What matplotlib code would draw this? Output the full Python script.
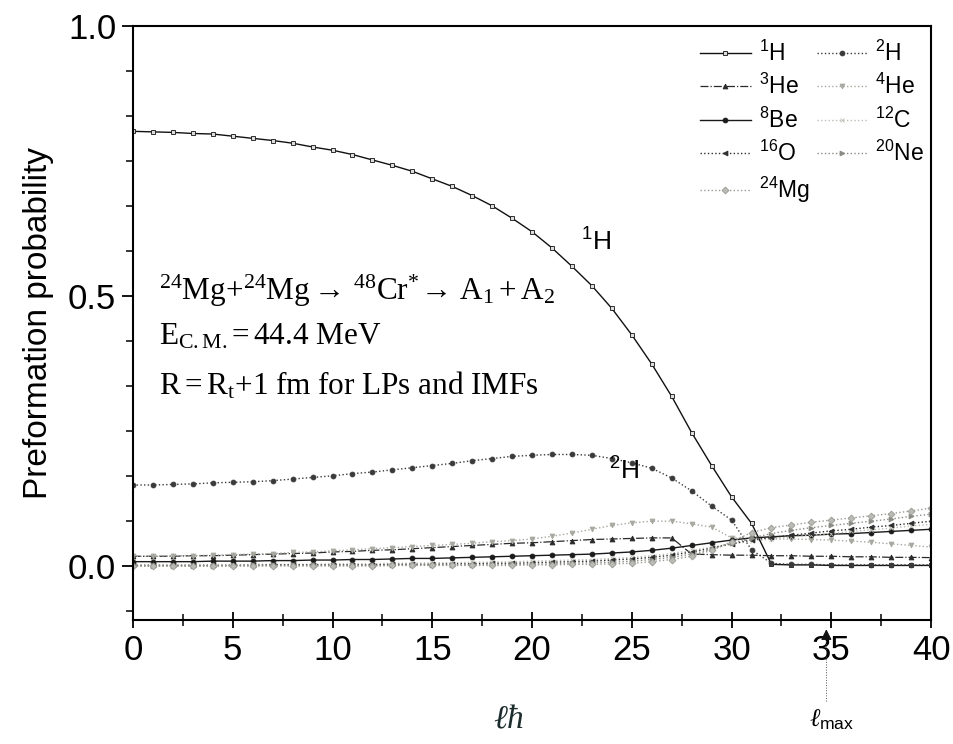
import matplotlib
matplotlib.use("Agg")
import matplotlib.pyplot as plt
from matplotlib.ticker import MultipleLocator

plt.rcParams['font.family'] = ['Liberation Sans', 'DejaVu Sans']
plt.rcParams['mathtext.fontset'] = 'custom'
plt.rcParams['mathtext.rm'] = 'Liberation Serif'
plt.rcParams['mathtext.it'] = 'Liberation Serif:italic'
plt.rcParams['mathtext.sf'] = 'Liberation Sans'

# angular momentum l (units of hbar)
ell = list(range(0, 41))

p_1H = [0.805, 0.804, 0.803, 0.801, 0.800, 0.796, 0.792, 0.788, 0.783, 0.776, 0.770,
        0.762, 0.752, 0.742, 0.731, 0.717, 0.703, 0.686, 0.667, 0.644, 0.619,
        0.589, 0.555, 0.519, 0.477, 0.428, 0.374, 0.314, 0.247, 0.186, 0.128,
        0.079, 0.003, 0.002, 0.002, 0.001, 0.001, 0.001, 0.001, 0.001, 0.001]
p_2H = [0.150, 0.150, 0.151, 0.152, 0.154, 0.155, 0.156, 0.158, 0.161, 0.164, 0.167,
        0.171, 0.174, 0.178, 0.182, 0.186, 0.190, 0.195, 0.199, 0.203, 0.205,
        0.2065, 0.2065, 0.205, 0.199, 0.191, 0.181, 0.163, 0.139, 0.111, 0.085,
        0.030, 0.005, 0.003, 0.003, 0.002, 0.002, 0.002, 0.002, 0.002, 0.002]
p_3He = [0.018, 0.018, 0.018, 0.019, 0.019, 0.020, 0.021, 0.022, 0.023, 0.024, 0.026,
         0.027, 0.029, 0.030, 0.032, 0.034, 0.036, 0.038, 0.040, 0.042, 0.043,
         0.045, 0.047, 0.049, 0.050, 0.051, 0.052, 0.052, 0.022, 0.021, 0.020,
         0.020, 0.019, 0.019, 0.018, 0.018, 0.017, 0.017, 0.016, 0.016, 0.0155]
p_4He = [0.018, 0.018, 0.019, 0.019, 0.020, 0.021, 0.022, 0.023, 0.025, 0.026, 0.028,
         0.030, 0.032, 0.034, 0.036, 0.038, 0.040, 0.042, 0.045, 0.047, 0.050,
         0.055, 0.061, 0.068, 0.075, 0.080, 0.083, 0.083, 0.078, 0.072, 0.052,
         0.051, 0.050, 0.050, 0.049, 0.048, 0.046, 0.044, 0.041, 0.038, 0.035]
p_8Be = [0.008, 0.008, 0.008, 0.008, 0.009, 0.009, 0.009, 0.010, 0.010, 0.011, 0.011,
         0.012, 0.012, 0.013, 0.014, 0.014, 0.015, 0.016, 0.017, 0.018, 0.019,
         0.020, 0.021, 0.022, 0.024, 0.026, 0.029, 0.033, 0.038, 0.043, 0.048,
         0.052, 0.054, 0.056, 0.057, 0.059, 0.060, 0.062, 0.064, 0.066, 0.068]
p_12C = [0.002, 0.002, 0.002, 0.002, 0.002, 0.002, 0.003, 0.003, 0.003, 0.003, 0.004,
         0.004, 0.004, 0.005, 0.005, 0.006, 0.006, 0.007, 0.007, 0.008, 0.009,
         0.010, 0.011, 0.012, 0.014, 0.016, 0.019, 0.023, 0.029, 0.035, 0.041,
         0.046, 0.050, 0.054, 0.057, 0.060, 0.064, 0.067, 0.070, 0.074, 0.077]
p_16O = [0.001, 0.001, 0.001, 0.001, 0.001, 0.001, 0.001, 0.002, 0.002, 0.002, 0.002,
         0.002, 0.002, 0.003, 0.003, 0.003, 0.004, 0.004, 0.005, 0.005, 0.006,
         0.007, 0.008, 0.009, 0.011, 0.013, 0.016, 0.020, 0.026, 0.033, 0.041,
         0.048, 0.053, 0.057, 0.061, 0.065, 0.068, 0.072, 0.075, 0.079, 0.083]
p_20Ne = [0.000, 0.000, 0.000, 0.000, 0.000, 0.001, 0.001, 0.001, 0.001, 0.001, 0.001,
          0.001, 0.001, 0.001, 0.002, 0.002, 0.002, 0.002, 0.003, 0.003, 0.003,
          0.004, 0.005, 0.006, 0.007, 0.009, 0.012, 0.016, 0.022, 0.031, 0.042,
          0.052, 0.060, 0.066, 0.071, 0.075, 0.079, 0.083, 0.087, 0.092, 0.096]
p_24Mg = [0.000, 0.000, 0.000, 0.000, 0.000, 0.000, 0.000, 0.000, 0.000, 0.000, 0.000,
          0.000, 0.000, 0.001, 0.001, 0.001, 0.001, 0.001, 0.001, 0.001, 0.002,
          0.002, 0.003, 0.003, 0.004, 0.005, 0.008, 0.012, 0.018, 0.029, 0.045,
          0.062, 0.071, 0.076, 0.081, 0.085, 0.089, 0.093, 0.097, 0.102, 0.107]

labels = [r'$\mathsf{^{1}}$H', r'$\mathsf{^{2}}$H', r'$\mathsf{^{3}}$He', r'$\mathsf{^{4}}$He',
          r'$\mathsf{^{8}}$Be', r'$\mathsf{^{12}}$C', r'$\mathsf{^{16}}$O', r'$\mathsf{^{20}}$Ne',
          r'$\mathsf{^{24}}$Mg']
series = [p_1H, p_2H, p_3He, p_4He, p_8Be, p_12C, p_16O, p_20Ne, p_24Mg]
styles = [
    dict(color='#111111', ls='-', marker='s', mfc='#dddddd', lw=1.0),
    dict(color='#3a3a3a', ls=':', marker='o', mfc='#3a3a3a', lw=1.0),
    dict(color='#2a2a2a', ls='-.', marker='^', mfc='#2a2a2a', lw=0.9),
    dict(color='#a8a8a0', ls=':', marker='v', mfc='#a8a8a0', lw=1.0),
    dict(color='#1a1a1a', ls='-', marker='o', mfc='#1a1a1a', lw=1.0),
    dict(color='#bdbdb5', ls=':', marker='x', mfc='#bdbdb5', lw=1.0),
    dict(color='#2e2e2e', ls=':', marker='<', mfc='#2e2e2e', lw=1.0),
    dict(color='#8a8a84', ls=':', marker='>', mfc='#8a8a84', lw=1.0),
    dict(color='#9a9a94', ls=':', marker='D', mfc='#bbbbb5', lw=1.0),
]

fig = plt.figure(figsize=(9.54, 7.44), dpi=100)
ax = fig.add_axes([0.1394, 0.1667, 0.8366, 0.7983])

handles = []
for y, lab, st in zip(series, labels, styles):
    h, = ax.plot(ell, y, label=lab, markersize=3.5, markeredgewidth=0.6,
                 markeredgecolor=st['color'], **st)
    handles.append(h)

ax.set_xlim(0, 40)
ax.set_ylim(-0.1, 1.0)
ax.xaxis.set_major_locator(MultipleLocator(5))
ax.xaxis.set_minor_locator(MultipleLocator(2.5))
ax.yaxis.set_major_locator(MultipleLocator(0.5))
ax.yaxis.set_minor_locator(MultipleLocator(0.5 / 6))
ax.set_yticks([0.0, 0.5, 1.0])
ax.set_yticklabels(['0.0', '0.5', '1.0'])
ax.tick_params(axis='x', which='major', direction='inout', length=12, width=1.3, labelsize=25, pad=4)
ax.tick_params(axis='x', which='minor', direction='inout', length=8, width=1.1)
ax.tick_params(axis='y', which='major', direction='out', length=8, width=1.3, labelsize=25, pad=4)
ax.tick_params(axis='y', which='minor', direction='out', length=5, width=1.1)
for s in ax.spines.values():
    s.set_linewidth(1.5)

ax.set_ylabel('Preformation probability', fontsize=24, labelpad=10)

# row-wise legend order (matplotlib fills columns first)
order = [0, 2, 4, 6, 8, 1, 3, 5, 7]
leg = ax.legend(handles=[handles[i] for i in order], ncol=2, loc='upper right',
                bbox_to_anchor=(1.017, 1.01),
                frameon=False, fontsize=16.5, handlelength=2.2, labelspacing=0.36,
                columnspacing=0.3, handletextpad=0.35, markerscale=1.0)

ax.text(1.3, 0.51, r'$\mathrm{^{24}Mg{+}^{24}Mg \rightarrow\,^{48}Cr^{*}\!\rightarrow\,A_{1}+A_{2}}$',
        fontsize=22.5, va='center', ha='left')
ax.text(1.3, 0.425, r'$\mathrm{E_{C.M.}\!=44.4\ MeV}$', fontsize=22.5, va='center', ha='left')
ax.text(1.3, 0.334, r'$\mathrm{R{=}R_{t}{+}1\ fm\ for\ LPs\ and\ IMFs}$', fontsize=22.5,
        va='center', ha='left')

ax.text(23.2, 0.60, r'$\mathsf{^{1}}$H', fontsize=19, ha='center', va='center')
ax.text(24.6, 0.176, r'$\mathsf{^{2}}$H', fontsize=19, ha='center', va='center')

# l_max arrow and handwritten-like marks below the axis
ax.plot([34.75, 34.75], [-0.25, -0.13], color='#555555', lw=0.7, ls=':', clip_on=False)
ax.annotate('', xy=(34.75, -0.112), xytext=(34.75, -0.14), xycoords='data',
            annotation_clip=False,
            arrowprops=dict(arrowstyle='-|>', color='#111111', lw=0.8,
                            mutation_scale=16))
ax.text(35.0, -0.285, r'$\ell_{\mathsf{max}}$', fontsize=18, ha='center', va='center',
        clip_on=False)
ax.text(18.8, -0.285, r'$\ell\hbar$', fontsize=24, ha='center', va='center',
        color='#1c2c2c', clip_on=False)

fig.savefig('out.png', dpi=100)
